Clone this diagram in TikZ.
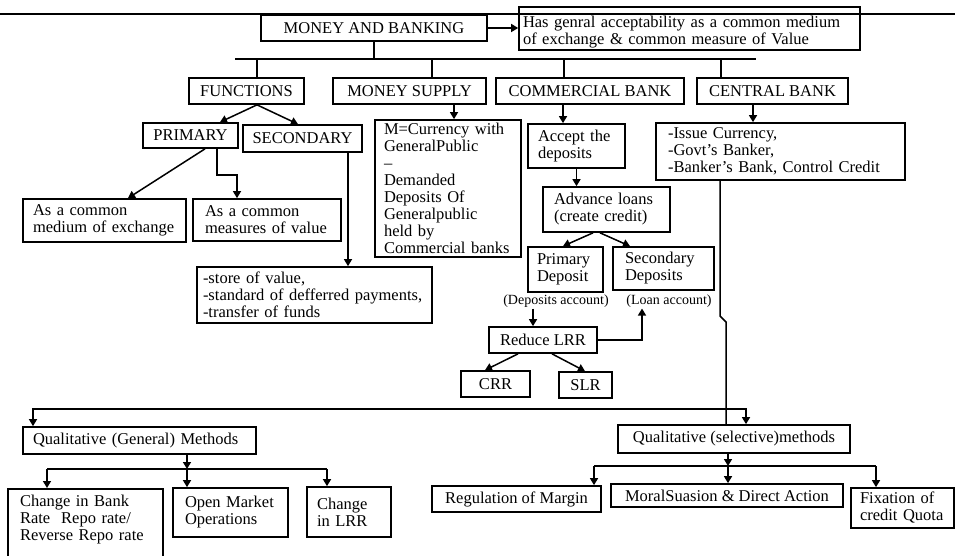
\documentclass[tikz,border=0pt]{standalone}
\usepackage{fontspec}
\setmainfont{Liberation Serif}
\usetikzlibrary{arrows.meta}

\begin{document}
\begin{tikzpicture}[x=1pt,y=-1pt,
  box/.style={draw, line width=1.7pt, inner sep=0pt, font=\fontsize{16.5}{17}\selectfont},
  size/.style 2 args={minimum width=#1pt, minimum height=#2pt},
  tbox/.style n args={3}{box, align=left, text width=#1pt, inner xsep=#2pt, minimum height=#3pt},
  note/.style={inner sep=1pt, font=\fontsize{14}{15}\selectfont},
  link/.style={line width=1.5pt},
  arr/.style={link, -{Triangle[length=7pt,width=8pt]}},
  arrs/.style={link, {Triangle[length=7pt,width=8pt]}-{Triangle[length=7pt,width=8pt]}}]

  \useasboundingbox (0,0) rectangle (955,556);
  \clip (0,0) rectangle (955,556);

  % Draw the top rule
  \draw[line width=1.2pt] (0,14) -- (955,14);

  % top level
  \node[box, size={226}{26}] (money) at (374,28) {MONEY AND BANKING};
  \node[tbox={333}{4}{43}, text height=19pt] (genacc) at (689.5,28.5) {Has genral acceptability as a common medium\\of exchange \& common measure of Value};

  \node[box, size={115}{26}] (functions) at (246.5,91) {FUNCTIONS};
  \node[box, size={153}{26}] (msupply) at (409.5,91) {MONEY SUPPLY};
  \node[box, size={188}{26}] (combank) at (590,91) {COMMERCIAL BANK};
  \node[box, size={151}{26}] (cenbank) at (772.5,91) {CENTRAL BANK};

  % functions
  \node[box, size={95}{25}] (primary) at (190.5,135.5) {PRIMARY};
  \node[box, size={119}{27}] (secondary) at (302.5,138.5) {SECONDARY};
  \node[tbox={143}{10}{43}] (medium) at (104.5,220.5) {As a common\\medium of exchange};
  \node[tbox={124}{12}{42}] (measure) at (267,220) {As a common\\measures of value};
  \node[tbox={223}{6}{56}] (storeval) at (314.5,295) {-store of value,\\-standard of defferred payments,\\-transfer of funds};

  % money supply
  \node[tbox={128}{9}{137}] (mdef) at (448,188.5) {M=Currency with\\GeneralPublic\\--\\Demanded\\Deposits Of\\Generalpublic\\held by\\Commercial banks};

  % commercial bank
  \node[tbox={77}{10}{44}] (acceptdep) at (576.5,146) {Accept the\\deposits};
  \node[tbox={105}{11}{45}] (advance) at (606.5,209.5) {Advance loans\\(create credit)};
  \node[tbox={57}{9}{45}] (pdep) at (565.5,269.5) {Primary\\Deposit};
  \node[tbox={77}{12}{43}] (sdep) at (663.5,268.5) {Secondary\\Deposits};
  \node[note] (depacc) at (556,301) {(Deposits account)};
  \node[note] (loanacc) at (669,301) {(Loan account)};
  \node[box, size={108}{26}] (reduce) at (543,340) {Reduce LRR};
  \node[box, size={69}{26}] (crr) at (495.5,384) {CRR};
  \node[box, size={53}{26}] (slr) at (585.5,385) {SLR};

  % central bank
  \node[tbox={225}{12}{57}] (cbtext) at (780.5,151.5) {-Issue Currency,\\-Govt's Banker,\\-Banker's Bank, Control Credit};

  % methods
  \node[tbox={213}{10}{27}] (gen) at (139.5,440.5) {Qualitative (General) Methods};
  \node[box, size={232}{28}] (sel) at (734,439) {Qualitative (selective)methods};

  \node[tbox={131}{12}{0}, inner ysep=6pt, text depth=80pt, anchor=north] (bankrate) at (85.5,488) {Change in Bank\\Rate\ \ Repo rate/\\Reverse Repo rate};
  \node[tbox={91}{12}{49}] (openmkt) at (230.5,512.5) {Open Market\\Operations};
  \node[tbox={64}{10}{50}] (chlrr) at (349,512) {Change\\in LRR};

  \node[box, size={169}{26}] (regmargin) at (516.5,499) {Regulation of Margin};
  \node[box, size={232}{23}] (moral) at (727,495.5) {MoralSuasion \& Direct Action};
  \node[tbox={85}{9}{40}] (fixquota) at (902.5,508) {Fixation of\\credit Quota};

  % connectors, top
  \draw[arr] (money.east) -- (money.east -| genacc.west);
  \draw[link] (235,59) -- (756,59);
  \draw[link] (money.south) -- (374,59);
  \draw[link] (257,59) -- (257,59 |- functions.north);
  \draw[link] (432,59) -- (432,59 |- msupply.north);
  \draw[link] (564,59) -- (564,59 |- combank.north);
  \draw[link] (721,59) -- (721,59 |- cenbank.north);

  \draw[arr] (257,0 |- functions.south) -- (220,0 |- primary.north);
  \draw[arr] (257,0 |- functions.south) -- (298,0 |- secondary.north);
  \draw[arr] (205,0 |- primary.south) -- (128,0 |- medium.north);
  \draw[arr] (217,0 |- primary.south) |- (237,175) -- (237,0 |- measure.north);
  \draw[arr] (348,0 |- secondary.south) -- (348,0 |- storeval.north);

  \draw[arr] (454,0 |- msupply.south) -- (454,0 |- mdef.north);

  \draw[arr] (563,0 |- combank.south) -- (563,0 |- acceptdep.north);
  \draw[arr] (acceptdep.south) -- (acceptdep.south |- advance.north);
  \draw[arr] (593,0 |- advance.south) -- (563,0 |- pdep.north);
  \draw[arr] (600,0 |- advance.south) -- (630,0 |- sdep.north);
  \draw[arr] (533,0 |- depacc.south) -- (533,0 |- reduce.north);
  \draw[arr] (reduce.east) -| (642,0 |- loanacc.south);
  \draw[arr] (518,0 |- reduce.south) -- (485,0 |- crr.north);
  \draw[arr] (552,0 |- reduce.south) -- (585,0 |- slr.north);

  \draw[arr] (753,0 |- cenbank.south) -- (753,0 |- cbtext.north);
  \draw[link] (720,0 |- cbtext.south) -- (720,316) -- (726,322) -- (726,0 |- sel.north);

  % connectors, methods
  \draw[arrs] (33,0 |- gen.north) |- (746,409) -- (746,0 |- sel.north);

  \draw[arr] (187,0 |- gen.south) -- (187,469);
  \draw[link] (47,469) -- (327,469);
  \draw[arr] (47,469) -- (47,0 |- bankrate.north);
  \draw[arr] (187,469) -- (187,0 |- openmkt.north);
  \draw[arr] (327,469) -- (327,0 |- chlrr.north);

  \draw[arr] (728,0 |- sel.south) -- (728,466);
  \draw[link] (594,466) -- (876,466);
  \draw[arr] (594,466) -- (594,0 |- regmargin.north);
  \draw[arr] (728,466) -- (728,0 |- moral.north);
  \draw[arr] (876,466) -- (876,0 |- fixquota.north);
\end{tikzpicture}
\end{document}
